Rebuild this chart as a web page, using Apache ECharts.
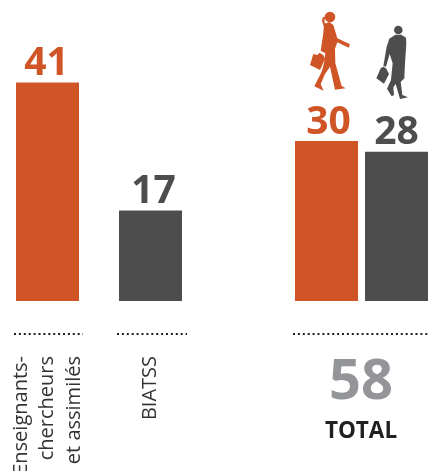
<!DOCTYPE html>
<html><head><meta charset="utf-8">
<style>html,body{margin:0;padding:0;background:#fff}#c{width:428px;height:471px}</style>
<script src="https://cdn.jsdelivr.net/npm/echarts@6/dist/echarts.min.js"></script>
</head><body><div id="c"></div>
<script>
const staffCategories = ['Enseignants-\nchercheurs\net assimilés', 'BIATSS'];
const staffValues = [41, 17];
const genderCategories = ['Femmes', 'Hommes'];
const genderValues = [30, 28];
const totalValue = 58;
const totalLabel = 'TOTAL';
const ORANGE = '#cf5527', DARK = '#4d4d4d', FONT = '"Open Sans"';

const Z = (pts) => pts.map(p => [280 + p[0] / 3, p[1] / 3]);
const womanBody = [[132,72],[148,66],[160,75],[172,115],[210,133],[206,143],[172,127],[165,146],[166,190],[185,258],[197,265],[165,269],[150,200],[135,222],[122,253],[131,272],[103,259],[125,215],[132,190],[136,160],[122,152],[130,100]];
const womanBag = [[100,162],[112,165],[118,158],[130,165],[135,177],[120,210],[90,195]];
const womanTail = [[136,50],[128,52],[126,64],[132,80],[137,78],[133,62]];
const manBody = [[346,104],[364,104],[378,113],[379,130],[375,190],[373,235],[362,246],[367,285],[384,292],[360,297],[347,252],[340,262],[342,285],[335,289],[321,266],[333,240],[338,190],[329,162],[318,200],[310,198],[320,140],[328,116]];
const manBag = [[302,205],[310,200],[318,205],[327,222],[312,251],[289,235]];

const poly = (pts, fill) => ({type:'polygon', shape:{points:Z(pts), smooth:0}, style:{fill}});
const circ = (x, y, r, fill) => ({type:'circle', shape:{cx:x, cy:y, r}, style:{fill}});
const dots = (x1, x2) => ({type:'line', shape:{x1, y1:334, x2, y2:334},
  style:{stroke:'#231f20', lineWidth:2.2, lineDash:[2,2.9]}});

const xAxisCommon = {type:'category', axisLine:{show:false}, axisTick:{show:false}};
const yAxisCommon = {type:'value', min:0, max:50, show:false, splitLine:{show:false}};
const labelCommon = {show:true, position:'top', distance:-1, fontFamily:FONT, fontWeight:700, fontSize:39};

const chart = echarts.init(document.getElementById('c'), null, {renderer:'canvas'});
chart.setOption({
  animation:false,
  backgroundColor:'#fff',
  grid:[
    {left:-4, width:206, top:34.5, height:266.5, outerBoundsMode:'none'},
    {left:291.5, width:140, top:34.5, height:266.5, outerBoundsMode:'none'}
  ],
  xAxis:[
    {...xAxisCommon, gridIndex:0, data:staffCategories,
     axisLabel:{interval:0, rotate:90, margin:55, fontFamily:FONT, fontSize:20, lineHeight:26.5, color:'#333333'}},
    {...xAxisCommon, gridIndex:1, data:genderCategories, axisLabel:{show:false}}
  ],
  yAxis:[{...yAxisCommon, gridIndex:0},{...yAxisCommon, gridIndex:1}],
  series:[
    {type:'bar', xAxisIndex:0, yAxisIndex:0, barWidth:63,
     data:staffValues.map((v,i)=>({value:v, itemStyle:{color:i===0?ORANGE:DARK},
       label:{...labelCommon, color:i===0?ORANGE:DARK, offset:[i===0?-1:3,0]}}))},
    {type:'bar', xAxisIndex:1, yAxisIndex:1, barWidth:63,
     data:genderValues.map((v,i)=>({value:v, itemStyle:{color:i===0?ORANGE:DARK},
       label:{...labelCommon, color:i===0?ORANGE:DARK, offset:[i===0?2:0,0]}}))}
  ],
  graphic:[
    dots(14,83), dots(117,187), dots(293,428),
    {type:'text', x:361, y:383, style:{text:String(totalValue), fill:'#939598', font:'700 56px '+FONT, textAlign:'center', textVerticalAlign:'middle'}},
    {type:'text', x:361, y:432, style:{text:totalLabel, fill:'#231f20', font:'700 22.5px '+FONT, textAlign:'center', textVerticalAlign:'middle'}},
    circ(330,17,5.3,ORANGE), poly(womanBody,ORANGE), poly(womanBag,ORANGE), poly(womanTail,ORANGE),
    circ(398.3,30,4.3,DARK), poly(manBody,DARK), poly(manBag,DARK)
  ]
});
</script></body></html>
